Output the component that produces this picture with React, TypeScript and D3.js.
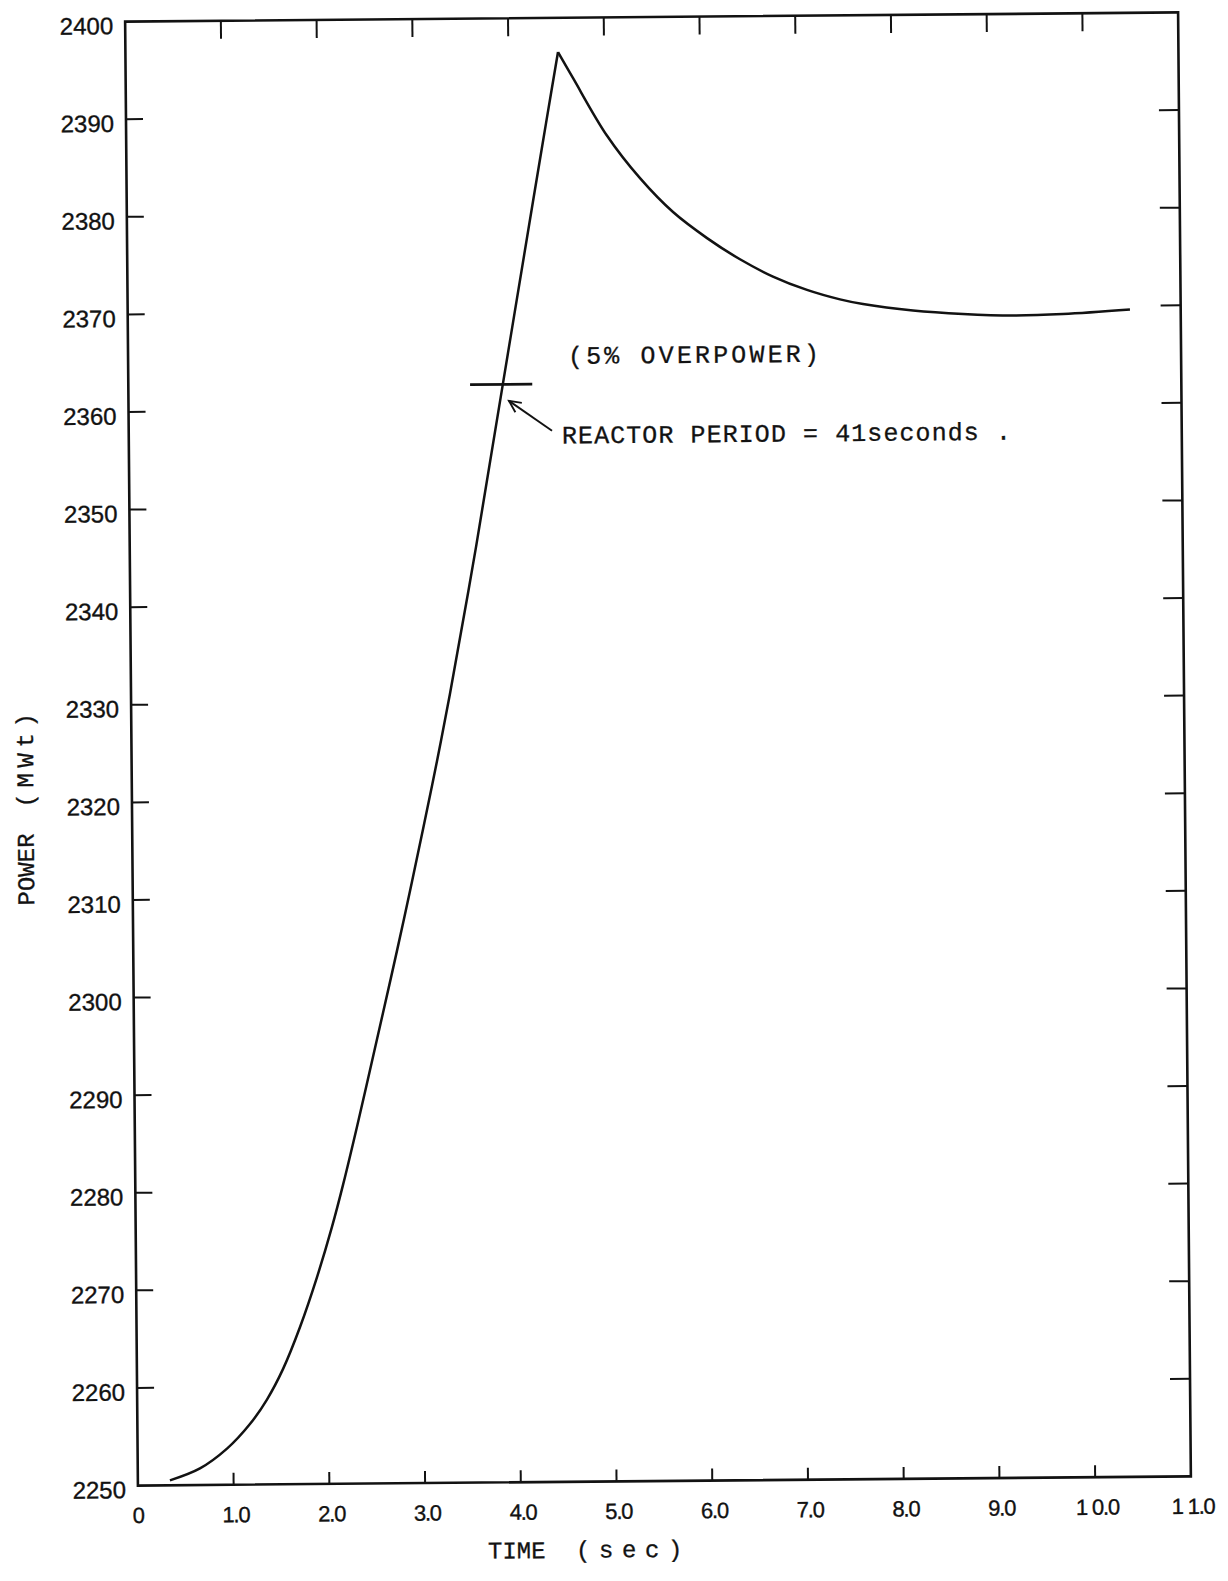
import React from 'react';
import * as d3 from 'd3';

// Power excursion: rise to the peak, then decay toward the new level
const riseTime = [0.335, 0.65, 0.934, 1.176, 1.356, 1.526, 1.708, 1.89, 2.05, 2.172, 2.322, 2.463, 2.603, 2.756, 2.897, 3.038, 3.189, 3.331, 3.62, 3.914, 4.244, 4.387, 4.519];
const risePower = [2250.5, 2251.7, 2253.7, 2256.2, 2258.7, 2261.8, 2266.1, 2271.2, 2276.3, 2280.7, 2286.6, 2292.4, 2298.2, 2304.6, 2310.7, 2317.0, 2323.9, 2330.8, 2346.0, 2362.6, 2381.2, 2389.2, 2396.5];
const decayTime = [4.674, 5.022, 5.364, 5.706, 6.059, 6.401, 6.744, 7.098, 7.442, 7.682, 8.203, 8.726, 9.248, 9.77, 10.47];
const decayPower = [2393.8, 2387.9, 2383.5, 2380.0, 2377.3, 2375.1, 2373.3, 2371.9, 2370.9, 2370.4, 2369.7, 2369.3, 2369.1, 2369.2, 2369.6];

const xTicks = [0, 1, 2, 3, 4, 5, 6, 7, 8, 9, 10, 11];
const xTickLabels = ['0', '1.0', '2.0', '3.0', '4.0', '5.0', '6.0', '7.0', '8.0', '9.0', '1 0.0', '1 1.0'];
const yTicks = [2250, 2260, 2270, 2280, 2290, 2300, 2310, 2320, 2330, 2340, 2350, 2360, 2370, 2380, 2390, 2400];

// 5% overpower marker and annotation anchors (time, power)
const overpowerLevel = 2362.5;
const overpowerSpan = [3.57, 4.22];
const overpowerLabelAt = [4.595, 2365.2];
const periodLabelAt = [4.525, 2357.05];
const arrowFrom = [4.422, 2357.7];
const arrowTo = [3.975, 2360.8];

const W = 1228;
const H = 1581;
const plot = { left: 131.5, right: 1184.5, top: 17, bottom: 1481 };

const ink = '#121212';
const sans = '"Liberation Sans", Arial, sans-serif';
const mono = '"Liberation Mono", "Courier New", monospace';

export default function App() {
  const x = d3.scaleLinear().domain([0, 11]).range([plot.left, plot.right]);
  const y = d3.scaleLinear().domain([2250, 2400]).range([plot.bottom, plot.top]);
  const line = d3
    .line<[number, number]>()
    .x((d) => x(d[0]))
    .y((d) => y(d[1]))
    .curve(d3.curveCatmullRom.alpha(0.5));

  const rise: [number, number][] = riseTime.map((t, i) => [t, risePower[i]]);
  const decay: [number, number][] = [rise[rise.length - 1], ...decayTime.map((t, i) => [t, decayPower[i]] as [number, number])];

  const innerY = yTicks.slice(1, -1);
  const innerX = xTicks.slice(1, -1);

  // open arrow head at the tip
  const ax1 = x(arrowFrom[0]);
  const ay1 = y(arrowFrom[1]);
  const ax2 = x(arrowTo[0]);
  const ay2 = y(arrowTo[1]);
  const ang = Math.atan2(ay1 - ay2, ax1 - ax2);
  const head = 13;
  const spread = 0.45;
  const h1 = [ax2 + head * Math.cos(ang - spread), ay2 + head * Math.sin(ang - spread)];
  const h2 = [ax2 + head * Math.cos(ang + spread), ay2 + head * Math.sin(ang + spread)];

  return (
    <svg
      width={W}
      height={H}
      viewBox={`0 0 ${W} ${H}`}
      style={{ position: 'absolute', left: 0, top: 0, background: '#fff' }}
    >
      <rect x={0} y={0} width={W} height={H} fill="#fff" />
      <g transform="rotate(-0.5, 658, 749)">
        {/* frame */}
        <rect
          x={plot.left}
          y={plot.top}
          width={plot.right - plot.left}
          height={plot.bottom - plot.top}
          fill="none"
          stroke={ink}
          strokeWidth={2.6}
        />
        {/* inward ticks */}
        {innerY.map((v) => (
          <g key={`yt${v}`} stroke={ink} strokeWidth={2}>
            <line x1={plot.left} x2={plot.left + 17} y1={y(v)} y2={y(v)} />
            <line x1={plot.right - 20} x2={plot.right} y1={y(v)} y2={y(v)} />
          </g>
        ))}
        {innerX.map((v) => (
          <g key={`xt${v}`} stroke={ink} strokeWidth={2}>
            <line x1={x(v)} x2={x(v)} y1={plot.top} y2={plot.top + 18} />
            <line x1={x(v)} x2={x(v)} y1={plot.bottom - 12} y2={plot.bottom} />
          </g>
        ))}
        {/* tick labels */}
        {yTicks.map((v) => (
          <text
            key={`yl${v}`}
            x={plot.left - 12}
            y={y(v) + 4}
            textAnchor="end"
            dominantBaseline="central"
            fontFamily={sans}
            fontSize={24}
            fill={ink}
            stroke={ink}
            strokeWidth={0.35}
          >
            {v}
          </text>
        ))}
        {xTicks.map((v, i) => (
          <text
            key={`xl${v}`}
            x={x(v) + (i === 0 ? 0 : 2)}
            y={plot.bottom + 30}
            textAnchor="middle"
            dominantBaseline="central"
            fontFamily={sans}
            fontSize={22}
            letterSpacing={-1.2}
            fill={ink}
            stroke={ink}
            strokeWidth={0.35}
          >
            {xTickLabels[i]}
          </text>
        ))}
        {/* axis titles */}
        <text y={1557} fontFamily={mono} fontSize={24} fill={ink} stroke={ink} strokeWidth={0.3}>
          <tspan x={481}>TIME</tspan>
          <tspan x={569} letterSpacing={8.6}>(sec)</tspan>
        </text>
        <text
          transform="translate(33, 900) rotate(-90)"
          fontFamily={mono}
          fontSize={24}
          fill={ink}
          stroke={ink}
          strokeWidth={0.3}
        >
          <tspan x={0}>POWER</tspan>
          <tspan x={98} letterSpacing={5.6}>(MWt)</tspan>
        </text>
        {/* power curve */}
        <path d={line(rise) || ''} fill="none" stroke={ink} strokeWidth={2.5} strokeLinejoin="miter" />
        <path d={line(decay) || ''} fill="none" stroke={ink} strokeWidth={2.5} />
        {/* 5% overpower marker */}
        <line
          x1={x(overpowerSpan[0])}
          x2={x(overpowerSpan[1])}
          y1={y(overpowerLevel)}
          y2={y(overpowerLevel)}
          stroke={ink}
          strokeWidth={2.8}
        />
        <text
          x={x(overpowerLabelAt[0])}
          y={y(overpowerLabelAt[1])}
          dominantBaseline="central"
          fontFamily={mono}
          fontSize={25}
          textLength={251}
          lengthAdjust="spacing"
          fill={ink}
          stroke={ink}
          strokeWidth={0.3}
        >
          (5% OVERPOWER)
        </text>
        <line x1={ax1} y1={ay1} x2={ax2} y2={ay2} stroke={ink} strokeWidth={1.9} />
        <polyline
          points={`${h1[0]},${h1[1]} ${ax2},${ay2} ${h2[0]},${h2[1]}`}
          fill="none"
          stroke={ink}
          strokeWidth={1.9}
        />
        <text
          x={x(periodLabelAt[0])}
          y={y(periodLabelAt[1])}
          dominantBaseline="central"
          fontFamily={mono}
          fontSize={25}
          textLength={449}
          lengthAdjust="spacing"
          fill={ink}
          stroke={ink}
          strokeWidth={0.3}
        >
          REACTOR PERIOD = 41seconds .
        </text>
      </g>
    </svg>
  );
}
